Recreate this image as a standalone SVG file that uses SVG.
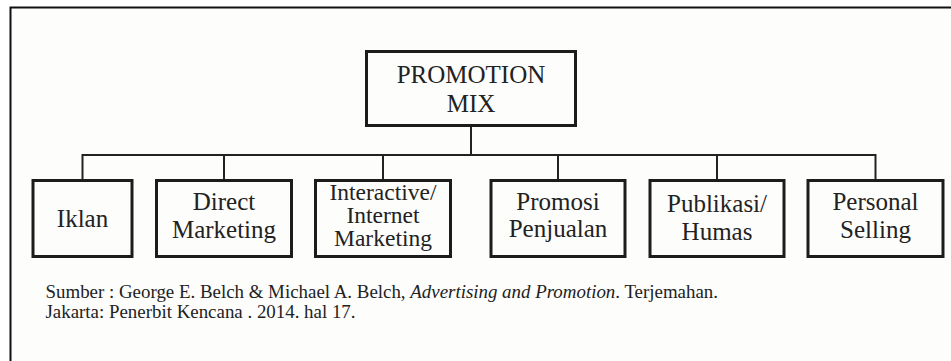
<svg xmlns="http://www.w3.org/2000/svg" width="951" height="361" viewBox="0 0 951 361">
  <style>
    .box { fill: none; stroke: #1c1c1c; stroke-width: 3; }
    .conn { fill: none; stroke: #222; stroke-width: 2; }
    .frame { fill: none; stroke: #111; stroke-width: 2; }
    .lbl { fill: #222; text-anchor: middle; }
    .t25 { font-size: 25px; }
    .t24 { font-size: 23.5px; }
    .src { font-size: 18.9px; fill: #222; }
  </style>
  <rect x="0" y="0" width="951" height="361" fill="#ffffff"/>
  <rect x="10" y="7" width="941" height="354" fill="#fdfdfc"/>
  <path class="frame" d="M10.5,361 V7.5 H951"/>

  <g id="connectors">
    <path class="conn" d="M471,127 V155"/>
    <path class="conn" d="M82.5,179 V155 H875.5 V179"/>
    <path class="conn" d="M224,155 V179"/>
    <path class="conn" d="M383,155 V179"/>
    <path class="conn" d="M558,155 V179"/>
    <path class="conn" d="M717,155 V179"/>
  </g>

  <g font-family="'Liberation Serif', 'Times New Roman', 'DejaVu Serif', serif">
  <g id="promotion-mix">
    <rect class="box" x="366.5" y="51.5" width="209" height="74"/>
    <text class="lbl t25" x="471" y="83">PROMOTION</text>
    <text class="lbl t25" x="471" y="112">MIX</text>
  </g>

  <g id="iklan">
    <rect class="box" x="33" y="180.5" width="99" height="76"/>
    <text class="lbl t25" x="82.5" y="226.5">Iklan</text>
  </g>

  <g id="direct-marketing">
    <rect class="box" x="156.5" y="180.5" width="135" height="76"/>
    <text class="lbl t25" x="224" y="210">Direct</text>
    <text class="lbl t25" x="224" y="238">Marketing</text>
  </g>

  <g id="interactive-marketing">
    <rect class="box" x="315.5" y="180.5" width="135" height="76"/>
    <text class="lbl t24" x="383" y="200">Interactive/</text>
    <text class="lbl t24" x="383" y="222.5">Internet</text>
    <text class="lbl t24" x="383" y="245.5">Marketing</text>
  </g>

  <g id="promosi-penjualan">
    <rect class="box" x="491" y="180.5" width="134" height="76"/>
    <text class="lbl t25" x="558" y="210">Promosi</text>
    <text class="lbl t25" x="558" y="237">Penjualan</text>
  </g>

  <g id="publikasi-humas">
    <rect class="box" x="650" y="180.5" width="134" height="76"/>
    <text class="lbl t25" x="717" y="211.5">Publikasi/</text>
    <text class="lbl t25" x="717" y="240">Humas</text>
  </g>

  <g id="personal-selling">
    <rect class="box" x="808" y="180.5" width="135" height="76"/>
    <text class="lbl t25" x="875.5" y="209.5">Personal</text>
    <text class="lbl t25" x="875.5" y="238">Selling</text>
  </g>

  <g id="source">
    <text class="src" x="45.5" y="298">Sumber : George E. Belch &amp; Michael A. Belch, <tspan font-style="italic">Advertising and Promotion</tspan>. Terjemahan.</text>
    <text class="src" x="45.5" y="318">Jakarta: Penerbit Kencana . 2014. hal 17.</text>
  </g>
  </g>
</svg>
